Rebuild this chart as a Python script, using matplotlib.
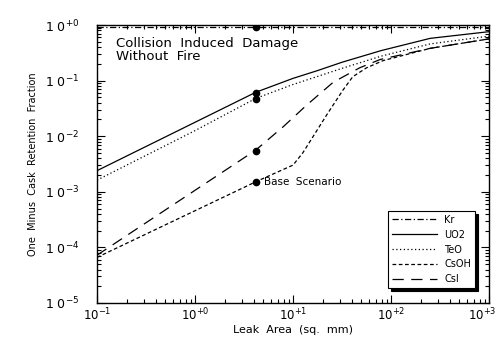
import matplotlib
matplotlib.use("Agg")
import matplotlib.pyplot as plt
import matplotlib.ticker as mticker
import matplotlib.transforms as mtransforms
import numpy as np

# log10 of leak area (sq. mm) and log10 of release fraction
kr_x = [-1.0, 3.0]
kr_y = [-0.035, -0.035]

uo2_x = [-1.0, 0.0, 0.62, 1.0, 1.25, 1.5, 1.9, 2.4, 3.0]
uo2_y = [-2.62, -1.75, -1.21, -0.96, -0.82, -0.67, -0.46, -0.24, -0.12]

teo_x = [-1.0, 0.0, 0.62, 1.0, 1.5, 1.9, 2.4, 3.0]
teo_y = [-2.79, -1.90, -1.32, -1.07, -0.78, -0.56, -0.34, -0.20]

csoh_x = [-1.0, 0.62, 1.0, 1.1, 1.35, 1.51, 1.61, 1.75, 1.92, 2.4, 3.0]
csoh_y = [-4.18, -2.82, -2.52, -2.30, -1.60, -1.17, -0.93, -0.77, -0.64, -0.42, -0.25]

csi_x = [-1.0, 0.62, 0.9, 1.14, 1.41, 1.68, 1.89, 2.4, 3.0]
csi_y = [-4.14, -2.25, -1.83, -1.44, -1.03, -0.77, -0.62, -0.42, -0.25]

# base scenario points at ~4 sq. mm
base_x = 4.2
base_y = [0.92, 0.060, 0.047, 0.0055, 0.0015]

labels = ["Kr", "UO2", "TeO", "CsOH", "CsI"]


def p10(v):
    return [10 ** a for a in v]


fig = plt.figure(figsize=(4.99, 3.45), dpi=100)
ax = fig.add_axes([97 / 499, 1 - 303 / 345, 392 / 499, 278 / 345])

lw = 0.9
ax.plot(p10(kr_x), p10(kr_y), color="black", lw=lw, dashes=(5, 2, 1, 2), label=labels[0])
ax.plot(p10(uo2_x), p10(uo2_y), color="black", lw=lw, ls="-", label=labels[1])
ax.plot(p10(teo_x), p10(teo_y), color="black", lw=lw, dashes=(1, 2), label=labels[2])
ax.plot(p10(csoh_x), p10(csoh_y), color="black", lw=lw, dashes=(3, 2), label=labels[3])
ax.plot(p10(csi_x), p10(csi_y), color="black", lw=lw, dashes=(9, 6), label=labels[4])

ax.plot([base_x] * len(base_y), base_y, "o", color="black", ms=4.5, zorder=5)

ax.set_xscale("log")
ax.set_yscale("log")
ax.set_xlim(0.1, 1000)
ax.set_ylim(1e-5, 1)


def fmt_y(v, pos):
    e = int(round(np.log10(v)))
    return "1 0$^{%s%d}$" % ("+" if e >= 0 else "\u2212", abs(e))


def fmt_x(v, pos):
    e = int(round(np.log10(v)))
    return "10$^{%s%d}$" % ("+" if e >= 0 else "\u2212", abs(e))


ax.xaxis.set_major_locator(mticker.LogLocator(base=10, numticks=10))
ax.yaxis.set_major_locator(mticker.LogLocator(base=10, numticks=10))
ax.xaxis.set_minor_locator(mticker.LogLocator(base=10, subs=np.arange(2, 10), numticks=10))
ax.yaxis.set_minor_locator(mticker.LogLocator(base=10, subs=np.arange(2, 10), numticks=10))
ax.xaxis.set_major_formatter(mticker.FuncFormatter(fmt_x))
ax.yaxis.set_major_formatter(mticker.FuncFormatter(fmt_y))
ax.xaxis.set_minor_formatter(mticker.NullFormatter())
ax.yaxis.set_minor_formatter(mticker.NullFormatter())

ax.tick_params(which="both", direction="in", top=True, right=True, width=0.8)
ax.tick_params(which="major", length=6)
ax.tick_params(which="minor", length=3)
ax.tick_params(axis="x", which="major", labelsize=8.5, pad=3)
ax.tick_params(axis="y", which="major", labelsize=9, pad=13)
for s in ax.spines.values():
    s.set_linewidth(1.0)

ax.set_xlabel("Leak  Area  (sq.  mm)", fontsize=8, labelpad=1)
ax.set_ylabel("One  Minus  Cask  Retention  Fraction", fontsize=7, labelpad=5)

ax.text(0.048, 0.957, "Collision  Induced  Damage\nWithout  Fire", transform=ax.transAxes,
        fontsize=9.5, va="top", ha="left", linespacing=1.05)
ax.text(base_x * 1.2, base_y[-1], "Base  Scenario", fontsize=7.5, va="center", ha="left")

leg = ax.legend(loc="lower right", bbox_to_anchor=(0.977, 0.036), fontsize=7,
                handlelength=4.6, labelspacing=0.5, fancybox=False, edgecolor="black",
                framealpha=1, shadow={"color": "black", "alpha": 1})
leg.get_frame().set_linewidth(0.8)

# nudge the last x tick label so it stays inside the figure
fig.canvas.draw()
shift = mtransforms.ScaledTranslation(-5 / 72, 0, fig.dpi_scale_trans)
for lab in ax.xaxis.get_majorticklabels():
    if "+3" in lab.get_text():
        lab.set_transform(lab.get_transform() + shift)

fig.savefig("out.png", dpi=100)
